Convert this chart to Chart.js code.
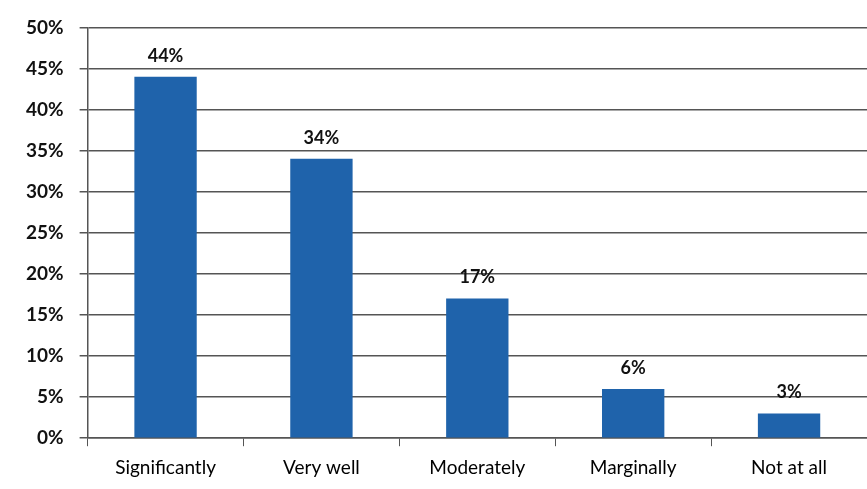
<!DOCTYPE html>
<html>
<head>
<meta charset="utf-8">
<script src="https://cdn.jsdelivr.net/npm/chart.js@4"></script>
<style>
  html, body { margin: 0; padding: 0; background: #fff; }
  #wrap { width: 867px; height: 489px; }
</style>
</head>
<body>
<div id="wrap"><canvas id="chart"></canvas></div>
<script>
const categories = ["Significantly", "Very well", "Moderately", "Marginally", "Not at all"];
const values = [44, 34, 17, 6, 3];
const yTicks = [0, 5, 10, 15, 20, 25, 30, 35, 40, 45, 50];

// draws the % labels above each bar
const barLabels = {
  id: "barLabels",
  afterDatasetsDraw(chart) {
    const ctx = chart.ctx;
    const meta = chart.getDatasetMeta(0);
    ctx.save();
    ctx.font = "bold 18px Lato, 'Open Sans', sans-serif";
    ctx.fillStyle = "#111";
    ctx.textAlign = "center";
    ctx.textBaseline = "bottom";
    meta.data.forEach((bar, i) => {
      ctx.fillText(values[i] + "%", bar.x, bar.y - 12);
    });
    ctx.restore();
  },
};

new Chart(document.getElementById("chart"), {
  type: "bar",
  data: {
    labels: categories,
    datasets: [
      {
        data: values,
        backgroundColor: "#1f63ab",
        barPercentage: 0.4,
        categoryPercentage: 1,
      },
    ],
  },
  options: {
    responsive: true,
    maintainAspectRatio: false,
    animation: false,
    layout: { padding: { left: 10, right: 0, top: 6, bottom: 0 } },
    plugins: { legend: { display: false }, tooltip: { enabled: false } },
    scales: {
      x: {
        grid: { display: true, drawOnChartArea: false, offset: true, color: "#555", tickLength: 8 },
        border: { color: "#555", width: 1.5 },
        ticks: {
          color: "#000",
          padding: 10,
          font: { family: "Lato, 'Open Sans', sans-serif", size: 19 },
        },
      },
      y: {
        min: 0,
        max: 50,
        afterBuildTicks(axis) {
          axis.ticks = yTicks.map((v) => ({ value: v }));
        },
        grid: { color: "#555", lineWidth: 1.5, drawTicks: true, tickLength: 8 },
        border: { color: "#555", width: 1.5 },
        ticks: {
          color: "#111",
          padding: 16,
          callback: (v) => v + "%",
          font: { family: "Lato, 'Open Sans', sans-serif", size: 19, weight: "bold" },
        },
      },
    },
  },
  plugins: [barLabels],
});
</script>
</body>
</html>
